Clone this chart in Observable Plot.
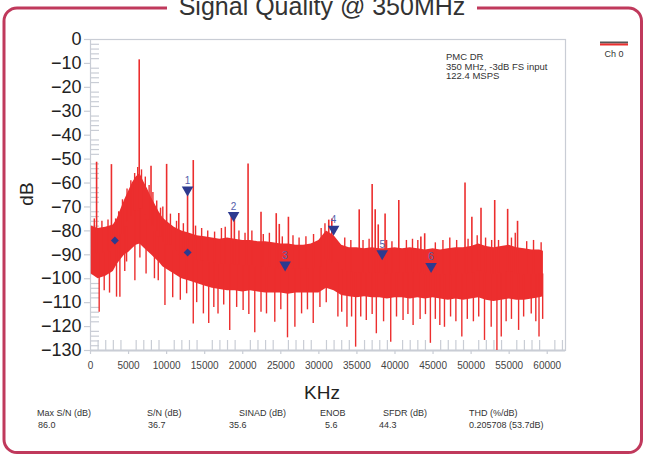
<!DOCTYPE html>
<html><head><meta charset="utf-8">
<script src="https://cdn.jsdelivr.net/npm/d3@7"></script>
<script src="https://cdn.jsdelivr.net/npm/@observablehq/plot@0.6"></script>
<style>
body{margin:0;background:#fff;}
#wrap{position:relative;width:645px;height:456px;overflow:hidden;font-family:"Liberation Sans",Arial,sans-serif;}
#wrap svg.ov{position:absolute;left:0;top:0;pointer-events:none;}
</style></head><body><div id="wrap"></div>
<script>
// ---- data ----
const bandFreq = [100,1000,2000,3000,3500,4000,4500,5000,5500,6000,6500,7000,7500,8000,8500,9000,9500,10000,
  11000,12000,13000,14000,15000,16000,17000,18000,19000,20000,
  21000,22000,23000,24000,25000,26000,27000,28000,29000,30000,
  31000,32000,33000,34000,35000,36000,37000,38000,39000,40000,
  41000,42000,43000,44000,45000,46000,47000,48000,49000,50000,
  51000,52000,53000,54000,55000,56000,57000,58000,59000,59500];
const bandHigh = [-78,-79,-78.5,-77.5,-75,-71,-67,-63.5,-60,-57.5,-56,-59.5,-62.5,-66,-69,-72,-74.5,-76,
  -78.5,-80,-81,-82,-82.5,-83,-83.5,-83,-83.5,-84,
  -84,-84.5,-84.5,-85,-85.5,-85.5,-86,-86,-85.5,-84,
  -80,-82,-86,-87,-87,-87.5,-87,-87.5,-87.5,-87,
  -87.5,-87,-87.5,-88,-87.5,-88,-87.5,-87,-87,-86.5,
  -85.5,-86.5,-87,-86.5,-86,-87,-87.5,-88,-88,-88.5];
const bandLow = [-98,-100,-99,-97,-94,-92,-90,-89,-87.5,-86,-85.5,-87,-88.5,-90,-91.5,-93,-95,-96,
  -98,-100,-101,-102,-103,-104,-104.5,-105,-105,-105.5,
  -105,-105.5,-106,-106,-106,-106.5,-106,-106,-106,-106,
  -104,-105,-107,-107.5,-108,-107.5,-108,-108,-108.5,-108,
  -108,-108.5,-108,-108.5,-108,-108.5,-109,-108.5,-109,-108.5,
  -108,-109,-109.5,-109,-108.5,-109,-109,-108.5,-108,-107.5];

const spikeFreq = [800,2750,6400,7950,10000,11600,12750,13500,18500,18900,20700,22400,24400,24800,26000,31300,31700,
  35300,37000,37400,37800,38700,40500,43400,43900,49200,50100,51300,53100,54800,56100];
const spikeTop = [-51.3,-52.3,-8.5,-53,-52.2,-72.7,-63.5,-50.6,-73,-72.5,-52,-72.2,-72.8,-77.3,-74.3,-75.5,-75,
  -71.2,-60.6,-71.2,-77.5,-72.9,-67.3,-82.6,-81.2,-60,-74.3,-70.5,-67.3,-71,-76];

const fuzzUpFreq = [500,1500,2300,3300,3700,4200,4800,5300,5800,6200,6700,7200,7700,8200,8700,9200,9500,10500,11300,12200,13800,14600,15400,16300,17200,17700,19500,20300,21200,22700,23500,
  25200,26600,27400,28300,29300,30300,30800,33400,34200,35800,36600,38900,39600,41500,42300,43000,45300,46300,47200,48100,
  49600,50800,51900,52700,53600,55300,55800,57300,58200,59200];
const fuzzUpTop = [-75,-76,-75.5,-75,-72,-67,-62.5,-59,-56,-53.5,-54.5,-57.5,-61,-64,-67.5,-70.5,-70,-73,-76,-77,-78,-79,-80,-80.5,-79,-78.5,-80,-81,-80,-81.5,-81,
  -82.5,-82,-83,-82.5,-81.5,-79,-77,-83,-84,-84,-83.5,-84,-84.5,-84,-83.5,-84,-85,-84,-83,-84,
  -83.5,-82,-83,-84,-84,-83,-81,-84.5,-84,-85];

const fuzzDownFreq = [1140,1800,2500,3420,3860,4500,4740,5830,6490,7300,8400,8900,9780,10800,11800,12630,13500,13950,14830,
  15530,16200,16750,17500,18290,19200,20050,20800,21580,22400,23120,24210,25000,25880,26850,27730,28500,29260,30140,
  30970,32500,33000,33690,34300,34830,35500,36230,37000,37550,38500,39440,40200,41060,41700,42380,43300,44000,44650,45300,45890,
  46500,47300,48000,48780,49500,50300,51000,51760,52640,53390,53960,54600,55300,56240,56900,57900,58500,58920,59400];
const fuzzDownBottom = [-114,-105,-106,-107.7,-107.7,-97,-93,-100.8,-91.3,-98,-100,-100.8,-111.2,-108,-109,-106.3,-118.9,-110,-114.7,
  -118.7,-112,-114.7,-111,-121.6,-112,-113.3,-115,-122.6,-114,-114.7,-118.2,-113,-124.7,-120.3,-114.7,-113,-118.7,-112,
  -110,-116,-114,-120.3,-116,-128.6,-116,-117.5,-115,-123,-118,-126.5,-116,-117.5,-115,-119.5,-117,-115,-127,-117,-119.5,
  -120.3,-116,-118,-124.4,-117,-118,-116,-125.8,-120.3,-130,-124.4,-118,-117,-121.6,-116,-114.7,-118,-124.4,-117];

const markerFreq = [12750,18800,25570,31940,38320,44740];
const markerDb = [-62.8,-73.5,-94.2,-79.2,-89.5,-94.8];
const markerLabel = ["1","2","3","4","5","6"];
const diamondFreq = [3200,12760];
const diamondDb = [-84,-89];

const yTicks = [0,-10,-20,-30,-40,-50,-60,-70,-80,-90,-100,-110,-120,-130];
const xTicks = [0,5000,10000,15000,20000,25000,30000,35000,40000,45000,50000,55000,60000];

const titleText = "Signal Quality @ 350MHz";
const noteLines = ["PMC DR","350 MHz, -3dB FS input","122.4 MSPS"];
const legendLabel = "Ch 0";
const statLabels = ["Max S/N (dB)","S/N (dB)","SINAD (dB)","ENOB","SFDR (dB)","THD (%/dB)"];
const statValues = ["86.0","36.7","35.6","5.6","44.3","0.205708 (53.7dB)"];

// ---- build tables ----
const RED = "#ec2e2e", BLUE = "#2d3a8f", GRID = "#c9cdd5";
function nearestIdx(f){let b=0;for(let i=1;i<bandFreq.length;i++) if(Math.abs(bandFreq[i]-f)<Math.abs(bandFreq[b]-f)) b=i;return b;}
const mid = f => {const i=nearestIdx(f);return (bandHigh[i]+bandLow[i])/2;};
const band = bandFreq.map((f,i)=>({f,hi:bandHigh[i],lo:bandLow[i]}));
const spikes = spikeFreq.map((f,i)=>({f,top:spikeTop[i],base:mid(f)}));
const fuzzUp = fuzzUpFreq.map((f,i)=>({f,top:fuzzUpTop[i],base:mid(f)}));
const fuzzDown = fuzzDownFreq.map((f,i)=>({f,bot:fuzzDownBottom[i],base:mid(f)}));
const markers = markerFreq.map((f,i)=>({f,db:markerDb[i],label:markerLabel[i]}));
const diamonds = diamondFreq.map((f,i)=>({f,db:diamondDb[i]}));
const yMinor = d3.range(-128,0,2).filter(d=>d%10!==0);
const xMinor = d3.range(1000,62001,1000).filter(d=>d%5000!==0);

const chart = Plot.plot({
  width:645, height:456,
  marginLeft:90, marginRight:80, marginTop:39, marginBottom:106,
  style:{fontFamily:"Liberation Sans, Arial, sans-serif", background:"transparent"},
  x:{domain:[0,62400]},
  y:{domain:[-130,0]},
  marks:[
    Plot.frame({stroke:GRID, strokeWidth:1.2}),
    Plot.axisY({ticks:yMinor, tickSize:9, dx:9, fill:"none", stroke:GRID, strokeWidth:1.2, label:null}),
    Plot.axisX({ticks:xMinor, tickSize:10, dy:-10, fill:"none", stroke:GRID, strokeWidth:1.2, label:null}),
    Plot.axisY({ticks:yTicks, tickSize:6, tickPadding:3, fontSize:18, fill:"#222", stroke:GRID, strokeWidth:1.2, label:null}),
    Plot.axisX({ticks:xTicks, tickSize:4, tickPadding:7, fontSize:10, fill:"#444", stroke:GRID, strokeWidth:1.2, tickFormat:d3.format("d"), label:null}),
    Plot.ruleY([-130],{stroke:GRID, strokeWidth:2}),
    Plot.areaY(band,{x:"f", y1:"lo", y2:"hi", fill:RED}),
    Plot.ruleX(fuzzDown,{x:"f", y1:"bot", y2:"base", stroke:RED, strokeWidth:1.4}),
    Plot.ruleX(fuzzUp,{x:"f", y1:"base", y2:"top", stroke:RED, strokeWidth:1.4}),
    Plot.ruleX(spikes,{x:"f", y1:"base", y2:"top", stroke:RED, strokeWidth:1.6}),
    Plot.dot(markers,{x:"f", y:"db", symbol:"triangle", rotate:180, r:4.3, fill:BLUE, stroke:null}),
    Plot.text(markers,{x:"f", y:"db", text:"label", dy:-9, fill:"#5560aa", fontSize:10}),
    Plot.dot(diamonds,{x:"f", y:"db", symbol:"diamond2", r:3.6, fill:BLUE, stroke:null})
  ]
});
const wrap = document.getElementById("wrap");
wrap.appendChild(chart);

// ---- overlay: border, title, axis titles, note, legend, stats ----
const ov = d3.select(wrap).append("svg").attr("class","ov").attr("width",645).attr("height",456)
  .style("font-family","Liberation Sans, Arial, sans-serif");
const L=4, R=641.5, T=8, B=452.5, rr=13, gapL=167, gapR=477;
ov.append("path")
  .attr("d",`M${gapR},${T}H${R-rr}A${rr},${rr} 0 0 1 ${R},${T+rr}V${B-rr}A${rr},${rr} 0 0 1 ${R-rr},${B}H${L+rr}A${rr},${rr} 0 0 1 ${L},${B-rr}V${T+rr}A${rr},${rr} 0 0 1 ${L+rr},${T}H${gapL}`)
  .attr("fill","none").attr("stroke","#c0395c").attr("stroke-width",3);
ov.append("text").attr("x",322).attr("y",15).attr("text-anchor","middle").attr("font-size",25).attr("fill","#333").text(titleText);
ov.append("text").attr("x",322).attr("y",399).attr("text-anchor","middle").attr("font-size",19).attr("fill","#222").text("KHz");
ov.append("text").attr("transform","translate(33,194) rotate(-90)").attr("text-anchor","middle").attr("font-size",19).attr("fill","#222").text("dB");
noteLines.forEach((t,i)=>ov.append("text").attr("x",446).attr("y",60+i*9.5).attr("font-size",9.5).attr("fill","#333").text(t));
ov.append("line").attr("x1",600).attr("x2",628).attr("y1",42.5).attr("y2",42.5).attr("stroke","#555").attr("stroke-width",2);
ov.append("line").attr("x1",600).attr("x2",628).attr("y1",44.5).attr("y2",44.5).attr("stroke",RED).attr("stroke-width",2);
ov.append("text").attr("x",614).attr("y",57).attr("text-anchor","middle").attr("font-size",9).attr("fill","#333").text(legendLabel);
const labelX = [37,147,239,320,383,469], valueX = [38,148,229,325,379,469];
statLabels.forEach((t,i)=>ov.append("text").attr("x",labelX[i]).attr("y",416).attr("font-size",9).attr("fill","#333").text(t));
statValues.forEach((t,i)=>ov.append("text").attr("x",valueX[i]).attr("y",428).attr("font-size",9).attr("fill","#333").text(t));
</script></body></html>
